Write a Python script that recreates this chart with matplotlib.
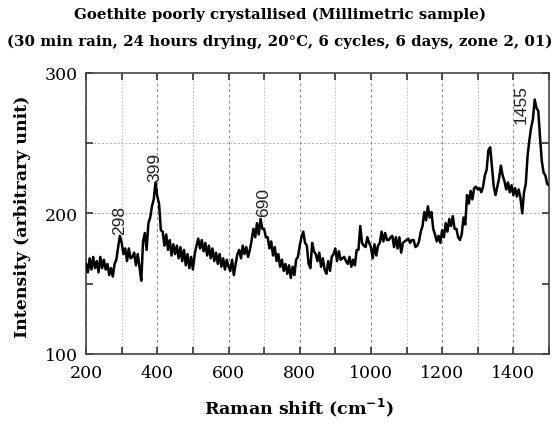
import numpy as np
import matplotlib
matplotlib.use("Agg")
import matplotlib.pyplot as plt
from matplotlib.ticker import MultipleLocator

# Raman spectrum, 5 cm-1 steps from 200 to 1500
shift = np.arange(200, 1501, 5)
intensity = [
    164, 158, 168, 160, 169, 161, 166, 158, 169, 161,
    167, 160, 164, 156, 161, 155, 164, 167, 176, 184,
    179, 171, 175, 166, 175, 168, 169, 172, 163, 171,
    162, 152, 180, 186, 174, 193, 197, 205, 210, 222,
    212, 207, 188, 187, 177, 185, 174, 181, 170, 178,
    171, 177, 168, 176, 166, 174, 163, 171, 161, 169,
    160, 171, 177, 182, 175, 181, 173, 179, 170, 177,
    168, 175, 166, 172, 164, 171, 162, 168, 160, 167,
    162, 159, 167, 156, 164, 171, 174, 168, 177, 171,
    176, 169, 174, 181, 189, 183, 193, 185, 196, 189,
    189, 183, 183, 175, 180, 170, 176, 166, 171, 162,
    167, 159, 164, 157, 163, 154, 162, 156, 167, 169,
    177, 183, 187, 179, 177, 164, 161, 179, 173, 171,
    166, 172, 162, 168, 160, 157, 166, 159, 169, 171,
    175, 166, 173, 167, 168, 169, 166, 164, 169, 162,
    167, 163, 174, 174, 191, 179, 177, 176, 183, 179,
    176, 168, 178, 170, 177, 179, 187, 180, 186, 181,
    181, 183, 184, 176, 183, 175, 183, 172, 179, 180,
    181, 182, 179, 181, 181, 176, 177, 180, 187, 191,
    201, 195, 205, 197, 201, 189, 185, 180, 184, 179,
    188, 183, 193, 187, 196, 191, 198, 189, 189, 183,
    181, 185, 197, 192, 213, 207, 216, 210, 218, 219,
    217, 218, 215, 219, 227, 231, 245, 247, 233, 219,
    213, 219, 225, 234, 227, 223, 217, 222, 215, 220,
    213, 218, 212, 217, 211, 200, 215, 221, 241, 252,
    261, 267, 281, 275, 273, 254, 237, 229, 227, 221,
    220,
]

# peak labels: text, x position, y of label bottom
peak_text = ["298", "399", "690", "1455"]
peak_x = [295, 393, 700, 1422]
peak_y = [185, 223, 198, 264]

grid_y = [200, 250]

fig = plt.figure(figsize=(5.59, 4.27), dpi=100)
ax = fig.add_axes([0.154, 0.169, 0.828, 0.658])

ax.plot(shift, intensity, color="black", lw=1.8, zorder=3)

ax.set_xlim(200, 1500)
ax.set_ylim(100, 300)
ax.xaxis.set_major_locator(MultipleLocator(200))
ax.xaxis.set_minor_locator(MultipleLocator(100))
ax.yaxis.set_major_locator(MultipleLocator(100))
ax.yaxis.set_minor_locator(MultipleLocator(50))

ax.grid(axis="x", which="major", ls=(0, (3, 3)), color="#888888", lw=0.7)
ax.grid(axis="x", which="minor", ls=(0, (1.5, 2)), color="#bbbbbb", lw=0.7)
for g in grid_y:
    ax.axhline(g, ls=(0, (2, 2)), color="#aaaaaa", lw=0.7, zorder=1)

ax.tick_params(which="both", direction="in", top=True, right=True,
               length=5, width=1.2, color="#333333")
ax.tick_params(axis="x", labelsize=12.5, pad=7)
ax.tick_params(axis="y", labelsize=12.5, pad=6)
for lab in ax.get_xticklabels() + ax.get_yticklabels():
    lab.set_family("DejaVu Serif")
for s in ax.spines.values():
    s.set_color("#444444")
    s.set_linewidth(1.2)

for t, x, y in zip(peak_text, peak_x, peak_y):
    ax.text(x, y, t, rotation=90, ha="center", va="bottom",
            family="Liberation Sans", fontsize=12.5, color="#222222", zorder=4)

ax.set_xlabel("Raman shift (cm$^{\\mathbf{-1}}$)", family="DejaVu Serif",
              fontweight="bold", fontsize=12.5)
ax.set_ylabel("Intensity (arbitrary unit)", family="DejaVu Serif",
              fontweight="bold", fontsize=12.5)
ax.xaxis.set_label_coords(0.459, -0.15)
ax.yaxis.set_label_coords(-0.12, 0.49)

fig.text(0.5, 0.965, "Goethite poorly crystallised (Millimetric sample)",
         ha="center", va="center", family="DejaVu Serif", fontweight="bold",
         fontsize=10.8)
fig.text(0.5, 0.902, "(30 min rain, 24 hours drying, 20\u00b0C, 6 cycles, 6 days, zone 2, 01)",
         ha="center", va="center", family="DejaVu Serif", fontweight="bold",
         fontsize=10.8)

fig.savefig("out.png", dpi=100)
